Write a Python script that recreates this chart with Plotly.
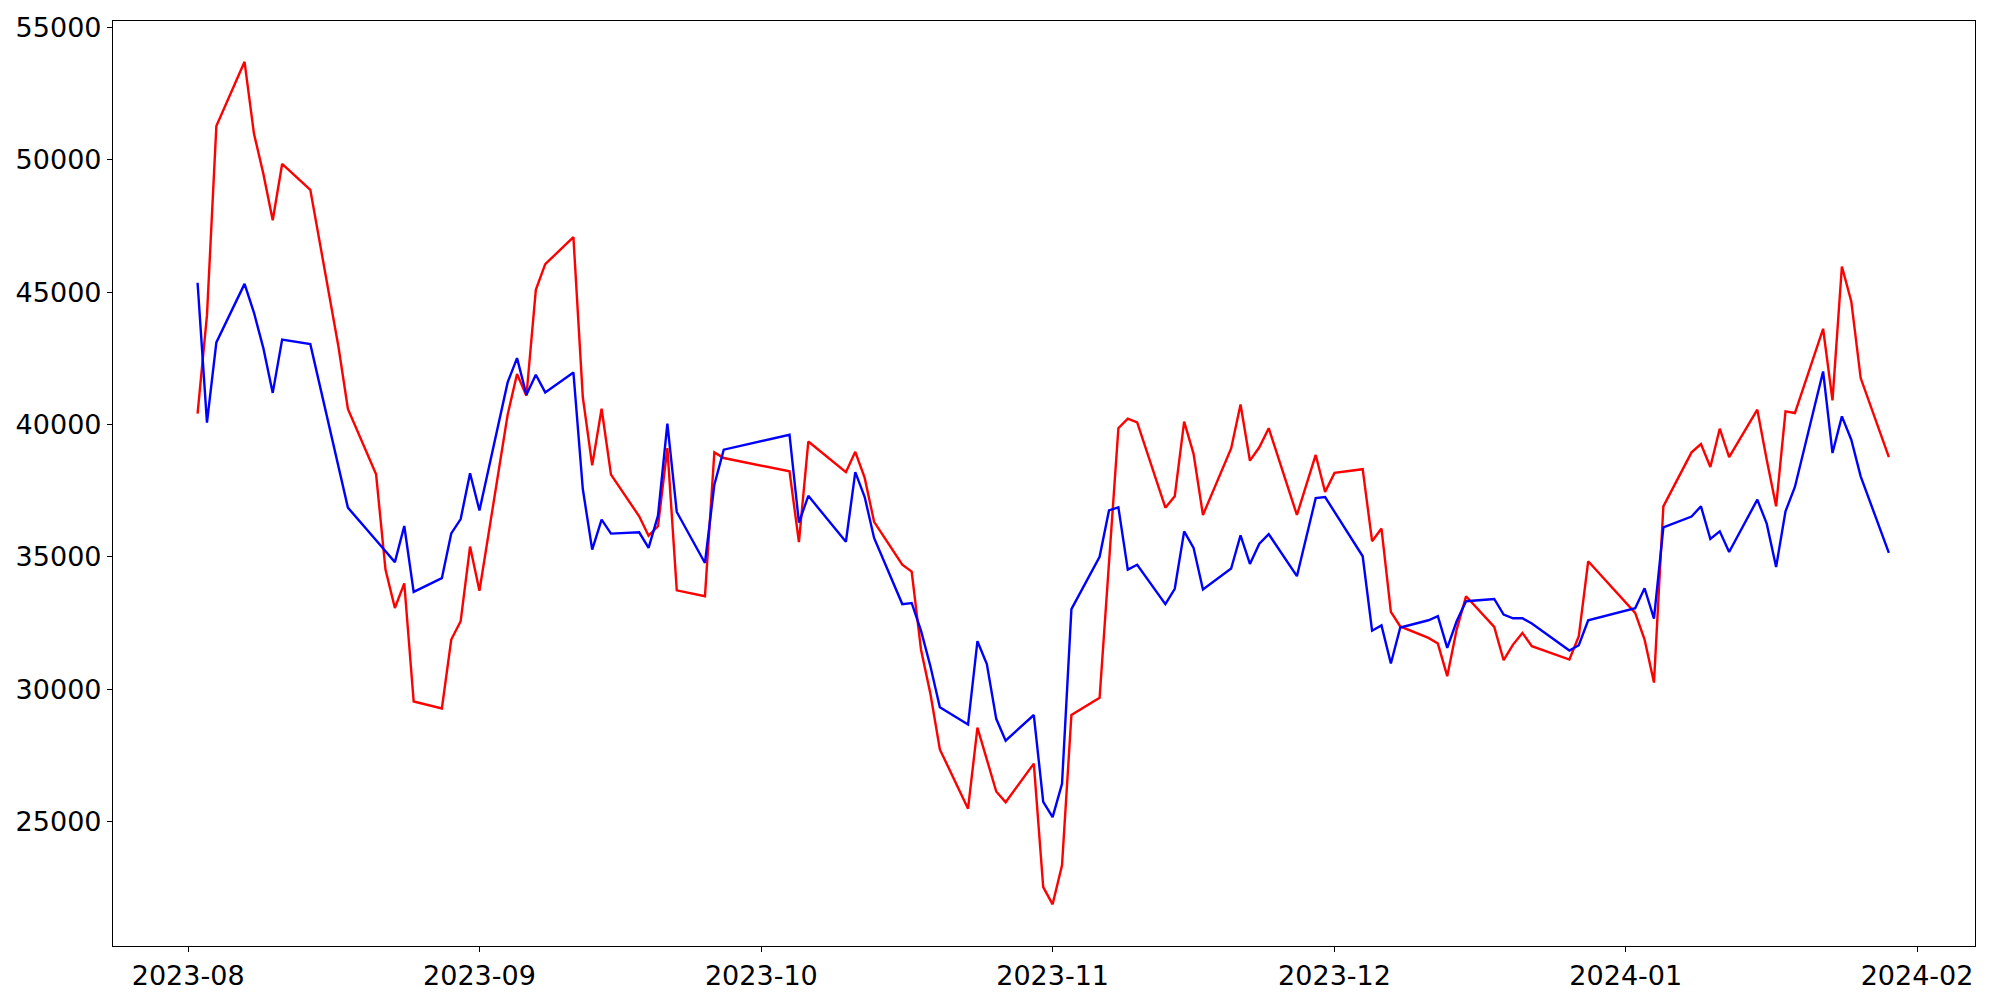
import plotly.graph_objects as go

# Trading days (Korean market calendar), grouped by month
aug_days = [2, 3, 4, 7, 8, 9, 10, 11, 14, 16, 17, 18, 21, 22, 23, 24, 25, 28, 29, 30, 31]
sep_days = [1, 4, 5, 6, 7, 8, 11, 12, 13, 14, 15, 18, 19, 20, 21, 22, 25, 26, 27]
oct_days = [4, 5, 6, 10, 11, 12, 13, 16, 17, 18, 19, 20, 23, 24, 25, 26, 27, 30, 31]
nov_days = [1, 2, 3, 6, 7, 8, 9, 10, 13, 14, 15, 16, 17, 20, 21, 22, 23, 24, 27, 28, 29, 30]
dec_days = [1, 4, 5, 6, 7, 8, 11, 12, 13, 14, 15, 18, 19, 20, 21, 22, 26, 27, 28]
jan_days = [2, 3, 4, 5, 8, 9, 10, 11, 12, 15, 16, 17, 18, 19, 22, 23, 24, 25, 26, 29]

dates = ([f"2023-08-{d:02d}" for d in aug_days] + [f"2023-09-{d:02d}" for d in sep_days] +
         [f"2023-10-{d:02d}" for d in oct_days] + [f"2023-11-{d:02d}" for d in nov_days] +
         [f"2023-12-{d:02d}" for d in dec_days] + [f"2024-01-{d:02d}" for d in jan_days])

red_values = [
    # Aug
    40413, 44119, 51270, 53697, 50988, 49471, 47716, 49840, 48865, 44899, 42927, 40587, 38116, 34519, 33068, 33999, 29535, 29275, 31875, 32569, 35386,
    # Sep
    33717, 40368, 41903, 41085, 45087, 46055, 47075, 41035, 38455, 40595, 38103, 36530, 35800, 36153, 39110, 33736, 33510, 38946, 38732,
    # Oct
    38229, 35555, 39355, 38199, 38965, 37982, 36321, 34703, 34443, 31481, 29820, 27725, 25486, 28548, 27292, 26136, 25731, 27190, 22524,
    # Nov
    21874, 23348, 29025, 29675, 34674, 39860, 40222, 40077, 36855, 37289, 40106, 38892, 36581, 39095, 40756, 38632, 39138, 39860, 36581, 37722, 38849, 37448,
    # Dec
    38170, 38310, 35590, 36070, 32920, 32370, 31938, 31724, 30491, 32252, 33511, 32353, 31095, 31686, 32126, 31623, 31120, 32001, 34832,
    # Jan
    32881, 31875, 30250, 36908, 38946, 39260, 38393, 39840, 38770, 40557, 38670, 36908, 40494, 40431, 43615, 40909, 45968, 44647, 41753, 38770,
]

blue_values = [
    # Aug
    45354, 40067, 43100, 45311, 44227, 42884, 41193, 43209, 43035, 39958, 38398, 36859, 35624, 35213, 34801, 36166, 33674, 34194, 35884, 36426, 38160,
    # Sep
    36751, 41589, 42507, 41123, 41878, 41211, 41966, 37562, 35272, 36404, 35876, 35926, 35335, 36555, 40028, 36694, 34768, 37726, 39047,
    # Oct
    39613, 36292, 37303, 35570, 38199, 37260, 35714, 33215, 33258, 32203, 30860, 29314, 28664, 31813, 30947, 28881, 28057, 29025, 25745,
    # Nov
    25168, 26425, 33027, 35000, 36754, 36870, 34515, 34703, 33215, 33793, 35960, 35339, 33764, 34558, 35815, 34732, 35497, 35859, 34269, 35743, 37217, 37260,
    # Dec
    36697, 35021, 32210, 32410, 30970, 32330, 32605, 32756, 31560, 32567, 33322, 33410, 32819, 32680, 32680, 32479, 31459, 31661, 32605,
    # Jan
    33058, 33813, 32670, 36115, 36520, 36908, 35675, 35964, 35184, 37160, 36254, 34618, 36719, 37638, 42004, 38921, 40306, 39424, 38041, 35147,
]

x_tick_vals = ["2023-08-01", "2023-09-01", "2023-10-01", "2023-11-01", "2023-12-01", "2024-01-01", "2024-02-01"]
x_tick_text = ["2023-08", "2023-09", "2023-10", "2023-11", "2023-12", "2024-01", "2024-02"]
y_tick_vals = [25000, 30000, 35000, 40000, 45000, 50000, 55000]

fig = go.Figure()
fig.add_trace(go.Scatter(x=dates, y=red_values, mode="lines",
                         line=dict(color="#ff0000", width=2.4), showlegend=False))
fig.add_trace(go.Scatter(x=dates, y=blue_values, mode="lines",
                         line=dict(color="#0000ff", width=2.4), showlegend=False))

axis_common = dict(showline=True, mirror=True, linecolor="black", linewidth=1.2,
                   showgrid=False, zeroline=False, ticks="outside", ticklen=5,
                   tickwidth=1.2, tickcolor="black", automargin=False,
                   tickfont=dict(family="DejaVu Sans", size=27, color="black"))

# page body has an 8px default margin, so the figure is sized to fit the window
fig.update_layout(
    width=1992, height=992,
    margin=dict(l=105, r=25, t=13, b=54),
    paper_bgcolor="white", plot_bgcolor="white",
    xaxis=dict(type="date", range=["2023-07-24", "2024-02-07 04:00"],
               tickvals=x_tick_vals, ticktext=x_tick_text, **axis_common),
    yaxis=dict(range=[20300, 55240], tickvals=y_tick_vals,
               ticktext=[str(v) for v in y_tick_vals], **axis_common),
)

fig.write_html("out.html")
